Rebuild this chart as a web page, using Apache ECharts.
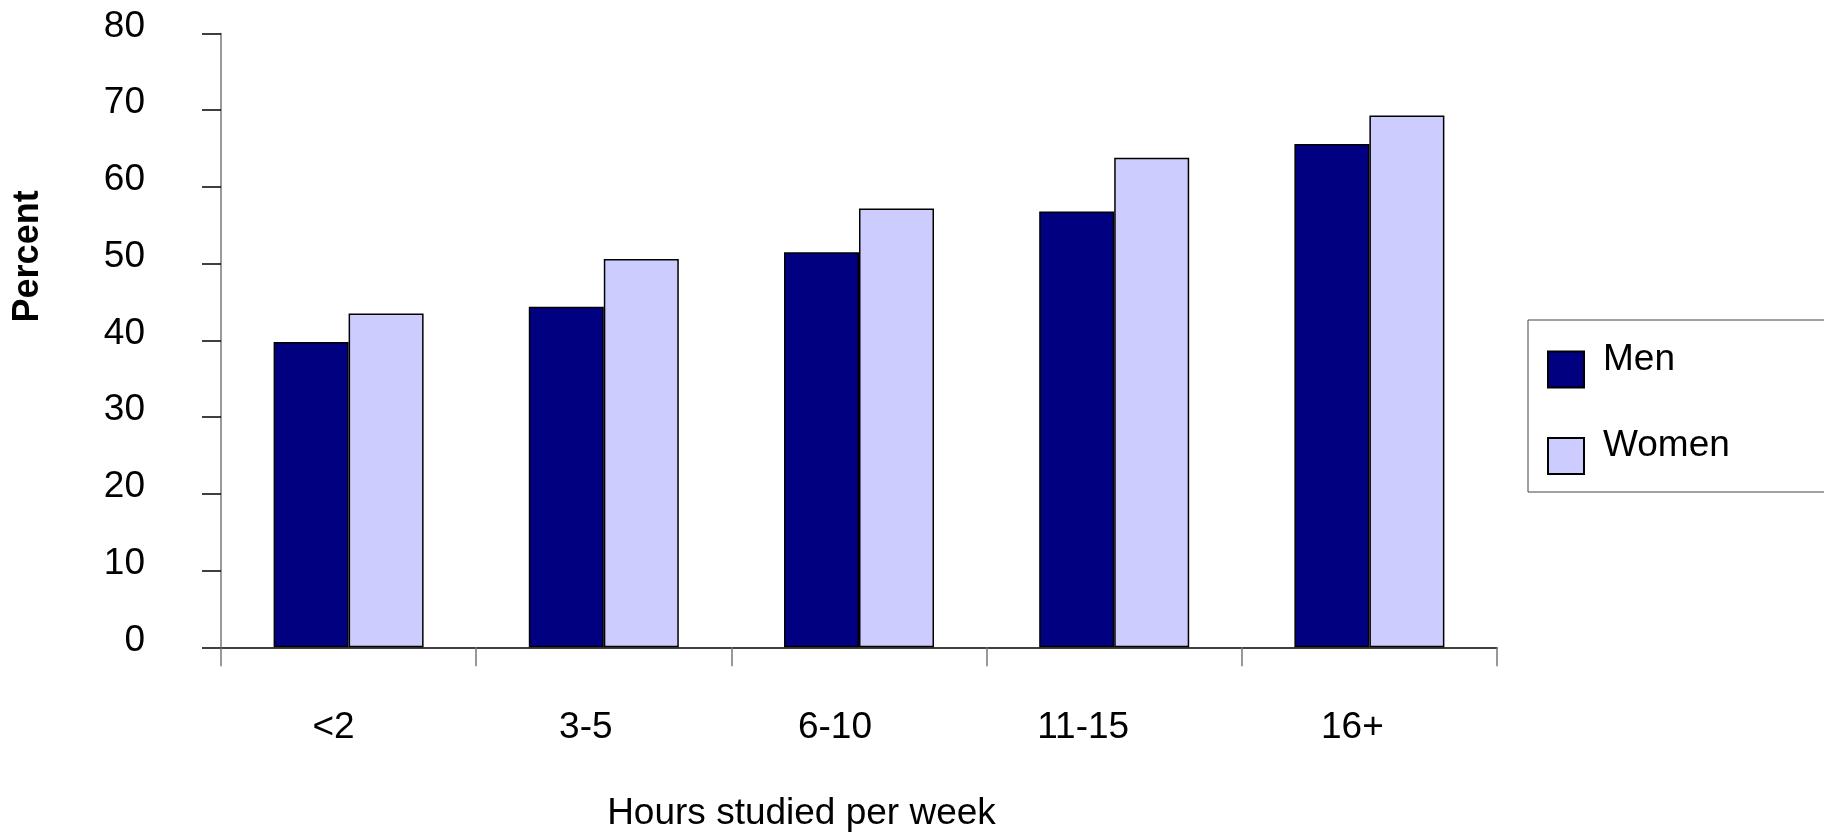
<!DOCTYPE html>
<html>
<head>
<meta charset="utf-8">
<script src="https://cdn.jsdelivr.net/npm/echarts@6/dist/echarts.min.js"></script>
<style>
html,body{margin:0;padding:0;background:#fff;}
#chart{width:1824px;height:839px;}
</style>
</head>
<body>
<div id="chart"></div>
<script>
const categories = ['<2', '3-5', '6-10', '11-15', '16+'];
const men = [39.8, 44.4, 51.5, 56.8, 65.6];
const women = [43.5, 50.6, 57.2, 63.8, 69.3];
const yTicks = { min: 0, max: 80, interval: 10 };

// per-label horizontal nudges (px, negative = left), style only
const labelNudge = [-15, -18, -24, -31, -17];

const FONT = 'Liberation Sans, Arial, sans-serif';
const FS = 37;
const chart = echarts.init(document.getElementById('chart'), null, { renderer: 'canvas' });

const rich = {};
labelNudge.forEach((n, i) => {
  rich['c' + i] = {
    fontFamily: FONT, fontSize: FS, color: '#000',
    padding: n < 0 ? [0, -2 * n, 0, 0] : [0, 0, 0, 2 * n]
  };
});

chart.setOption({
  backgroundColor: '#ffffff',
  animation: false,
  textStyle: { fontFamily: FONT },
  grid: { left: 221, top: 33.5, right: 327, bottom: 191.7, containLabel: false },
  legend: {
    orient: 'vertical',
    left: 1528,
    top: 320,
    itemWidth: 36,
    itemHeight: 36,
    itemGap: 39,
    padding: [21, 150, 17, 19],
    borderColor: '#444',
    borderWidth: 1,
    icon: 'rect',
    formatter: name => '{t|' + name + '}\n{s| }',
    textStyle: {
      fontFamily: FONT, fontSize: FS, color: '#000', padding: [0, 0, 0, 14],
      rich: {
        t: { fontFamily: FONT, fontSize: FS, color: '#000', lineHeight: 36 },
        s: { fontSize: 2, lineHeight: 20 }
      }
    },
    data: ['Men', 'Women']
  },
  xAxis: {
    type: 'category',
    data: categories,
    boundaryGap: true,
    name: 'Hours studied per week',
    nameLocation: 'middle',
    nameGap: 148,
    nameTextStyle: { fontFamily: FONT, fontSize: FS, color: '#000', padding: [0, 115, 0, 0] },
    axisLine: { lineStyle: { color: '#000', width: 1.5 } },
    axisTick: { show: true, length: 19, alignWithLabel: false, lineStyle: { color: '#777', width: 1.5 } },
    axisLabel: {
      fontFamily: FONT, fontSize: FS, color: '#000', margin: 62, verticalAlign: 'top',
      formatter: (v, i) => '{c' + i + '|' + v + '}',
      rich: rich
    },
    splitLine: { show: false }
  },
  yAxis: {
    type: 'value',
    min: yTicks.min,
    max: yTicks.max,
    interval: yTicks.interval,
    name: 'Percent',
    nameLocation: 'middle',
    nameGap: 175,
    nameRotate: 90,
    nameTextStyle: { fontFamily: FONT, fontSize: 36, fontWeight: 'bold', color: '#000', lineHeight: 36, padding: [0, 0, 0, 168] },
    axisLine: { show: true, lineStyle: { color: '#777', width: 1.5 } },
    axisTick: { show: true, length: 19, lineStyle: { color: '#000', width: 1.5 } },
    axisLabel: {
      fontFamily: FONT, fontSize: FS, color: '#000', margin: 76,
      formatter: v => '{v|' + v + '}\n{s| }',
      rich: {
        v: { fontFamily: FONT, fontSize: FS, color: '#000', lineHeight: 36 },
        s: { fontSize: 2, lineHeight: 14 }
      }
    },
    splitLine: { show: false }
  },
  series: [
    {
      name: 'Men',
      type: 'bar',
      data: men,
      barWidth: 75,
      barGap: '0%',
      itemStyle: { color: '#000080', borderColor: '#000', borderWidth: 1.5 }
    },
    {
      name: 'Women',
      type: 'bar',
      data: women,
      barWidth: 75,
      barGap: '0%',
      itemStyle: { color: '#CCCCFF', borderColor: '#000', borderWidth: 1.5 }
    }
  ]
});
</script>
</body>
</html>
